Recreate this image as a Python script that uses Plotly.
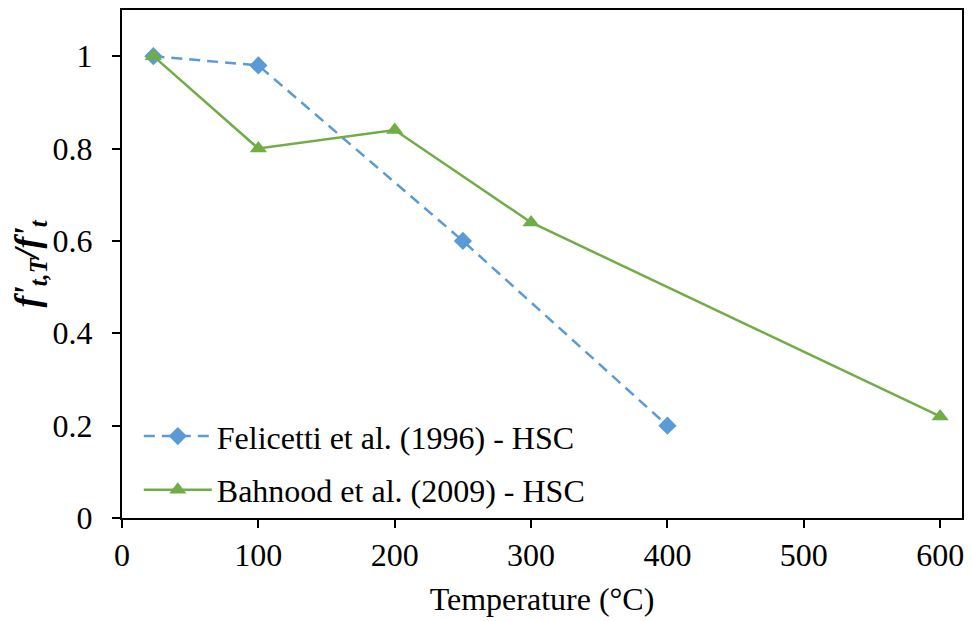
import plotly.graph_objects as go

fel_x = [23, 100, 250, 400]
fel_y = [1.0, 0.98, 0.6, 0.2]
bah_x = [23, 100, 200, 300, 600]
bah_y = [1.0, 0.8, 0.84, 0.64, 0.22]
x_ticks = [0, 100, 200, 300, 400, 500, 600]
y_ticks = [0, 0.2, 0.4, 0.6, 0.8, 1]
y_tick_text = ["0", "0.2", "0.4", "0.6", "0.8", "1"]

FONT = "Times New Roman, Tinos, Liberation Serif, DejaVu Serif, serif"
FS = 32

fig = go.Figure()
fig.add_trace(go.Scatter(
    x=fel_x, y=fel_y, mode="lines+markers",
    name="Felicetti et al. (1996) - HSC", legendgroup="a",
    line=dict(color="#5B9BD5", width=2.5, dash="11px,7px"),
    marker=dict(symbol="diamond", size=14, color="#5B9BD5"),
))
fig.add_trace(go.Scatter(
    x=bah_x, y=bah_y, mode="lines+markers",
    name="Bahnood et al. (2009) - HSC", legendgroup="b",
    line=dict(color="#70AD47", width=2.5),
    marker=dict(symbol="triangle-up", size=15, color="#70AD47"),
))

fig.update_layout(
    width=972, height=621,
    margin=dict(l=122, r=9, t=8, b=103),
    paper_bgcolor="white", plot_bgcolor="white",
    font=dict(family=FONT, size=FS, color="black"),
    showlegend=True,
    legend=dict(x=0.02, y=0.215, xanchor="left", yanchor="top",
                bgcolor="rgba(0,0,0,0)", font=dict(size=FS, family=FONT, color="black"),
                tracegroupgap=9, itemwidth=68),
    xaxis=dict(
        range=[0, 616], tickvals=x_ticks, showgrid=False, zeroline=False,
        showline=True, linecolor="black", linewidth=2, mirror=True,
        ticks="outside", ticklen=8, tickwidth=2, tickcolor="black",
        tickfont=dict(size=FS, family=FONT, color="black"),
        ticklabelstandoff=0,
        title=dict(text="Temperature (°C)", font=dict(size=FS, family=FONT, color="black"), standoff=15),
    ),
    yaxis=dict(
        range=[0, 1.1], tickvals=y_ticks, ticktext=y_tick_text, showgrid=False, zeroline=False,
        showline=True, linecolor="black", linewidth=2, mirror=True,
        ticks="outside", ticklen=8, tickwidth=2, tickcolor="black",
        tickfont=dict(size=FS, family=FONT, color="black"),
        ticklabelstandoff=13,
        title=dict(text="<b><i>f'</i></b><b><i><sub>t,T</sub></i></b><b><i>/f'</i></b><b><i><sub>t</sub></i></b>",
                   font=dict(size=35, family=FONT, color="black"), standoff=2),
    ),
)

fig.write_html("out.html")
